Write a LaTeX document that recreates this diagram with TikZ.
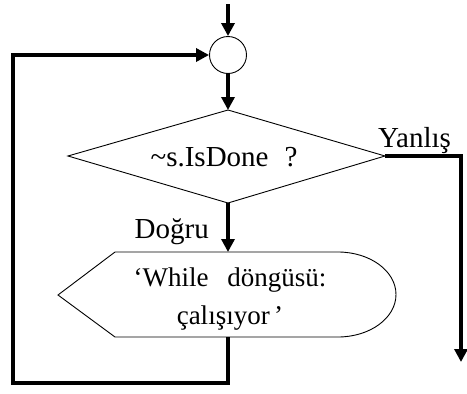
\documentclass[tikz,border=0pt]{standalone}
\usepackage{fontspec}
\setmainfont{Liberation Serif}
\usetikzlibrary{arrows.meta}
\begin{document}
\begin{tikzpicture}[x=1pt,y=-1pt,
  flow/.style={line width=4.5pt,-{Triangle[length=13pt,width=13pt]}},
  outline/.style={draw=black,line width=0.9pt,fill=white},
  lbl/.style={font=\fontsize{29}{38}\selectfont,inner sep=0pt},
  msgtext/.style={font=\fontsize{27}{38}\selectfont,inner sep=0pt}]
\useasboundingbox (0,0) rectangle (467,394);

% entry point and connector circle
\coordinate (start) at (228,4);
\node[circle,outline,minimum size=37pt,inner sep=0pt] (join) at (228,55) {};

% decision diamond
\coordinate (dtop) at (228,110);
\coordinate (dright) at (385,156);
\coordinate (dbottom) at (228,203);
\coordinate (dleft) at (68,156);
\draw[outline] (dtop) -- (dright) -- (dbottom) -- (dleft) -- cycle;
\node[lbl] (cond) at (224,157) {\textasciitilde s.IsDone\hspace{0.55em}?};

% display block
\coordinate (ptop) at (228,252);
\coordinate (pbottom) at (228,337);
\draw[outline] (115,252) -- (58,295) -- (115,337) -- (338,337)
  arc[start angle=-90,end angle=90,x radius=58,y radius=-42.5] -- cycle;
\node[msgtext,align=center] (msg) at (230,299)
  {‘While\hspace{0.45em} döngüsü:\\çalışıyor\,’};

% branch labels
\node[lbl,anchor=base west] (no) at (378,147) {Yanlış};
\node[lbl,anchor=base east] (yes) at (209,238) {Doğru};

% connectors
\coordinate (rc) at (461,156);
\coordinate (exit) at (461,362);
\coordinate (lb) at (228,383);
\coordinate (lbl0) at (13,383);
\coordinate (ltop) at (13,55);

\draw[flow] (start) -- (join.north);
\draw[flow] (join.south) -- (dtop);
\draw[flow] (dbottom) -- (ptop);
\draw[flow] (dright) -- (rc) -- (exit);
\draw[flow] (pbottom) -- (lb) -- (lbl0) -- (ltop) -- (join.west);
\end{tikzpicture}
\end{document}
